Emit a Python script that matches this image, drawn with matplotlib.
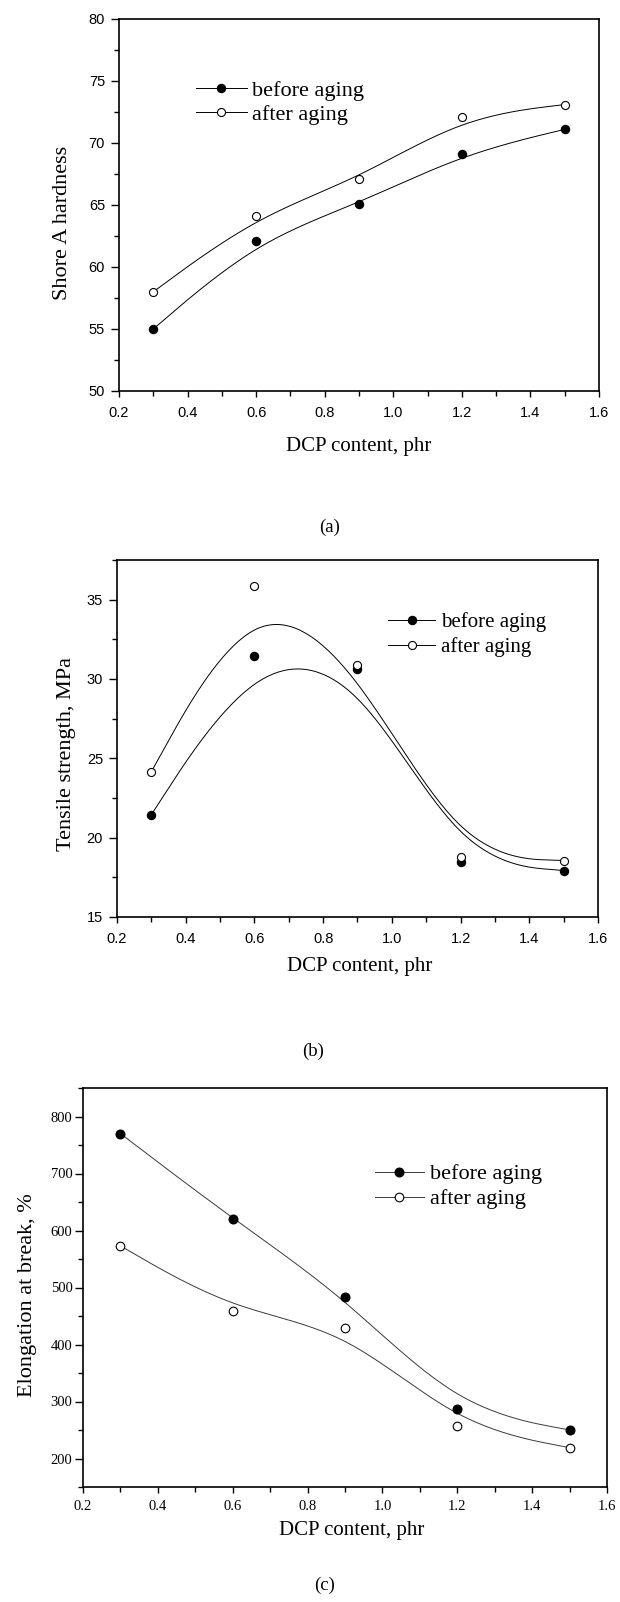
import numpy as np
import matplotlib
matplotlib.use("Agg")
import matplotlib.pyplot as plt
from matplotlib.lines import Line2D
from matplotlib.ticker import MultipleLocator, FormatStrFormatter

# DCP content (phr)
dcp = [0.3, 0.6, 0.9, 1.2, 1.5]

# (a) Shore A hardness
hard_before = [55.0, 62.1, 65.1, 69.1, 71.1]
hard_after = [58.0, 64.1, 67.1, 72.1, 73.1]

# (b) tensile strength, MPa
ts_before = [21.45, 31.47, 30.65, 18.46, 17.93]
ts_after = [24.16, 35.87, 30.87, 18.78, 18.56]

# (c) elongation at break, %
eb_before = [770, 620, 484, 287, 250]
eb_after = [573, 459, 429, 257, 219]

series_labels = ["before aging", "after aging"]
caption_labels = ["(a)", "(b)", "(c)"]
xlabel = "DCP content, phr"
ylabels = ["Shore A hardness", "Tensile strength, MPa", "Elongation at break, %"]

SERIF = "Liberation Serif"
SANS = "Liberation Sans"


def bspline(xs, ys, n=40):
    # uniform cubic B-spline, end points tripled (Origin style "B-Spline" connect)
    px = np.r_[[xs[0]] * 2, xs, [xs[-1]] * 2].astype(float)
    py = np.r_[[ys[0]] * 2, ys, [ys[-1]] * 2].astype(float)
    u = np.linspace(0, 1, n)
    b0 = (1 - u) ** 3 / 6
    b1 = (3 * u**3 - 6 * u**2 + 4) / 6
    b2 = (-3 * u**3 + 3 * u**2 + 3 * u + 1) / 6
    b3 = u**3 / 6
    outx, outy = [], []
    for i in range(len(px) - 3):
        outx.append(b0 * px[i] + b1 * px[i + 1] + b2 * px[i + 2] + b3 * px[i + 3])
        outy.append(b0 * py[i] + b1 * py[i + 1] + b2 * py[i + 2] + b3 * py[i + 3])
    return np.concatenate(outx), np.concatenate(outy)


W, H = 620, 1602
fig = plt.figure(figsize=(W / 100, H / 100), dpi=100)


def add_axes(left, right, top, bottom):
    return fig.add_axes([left / W, 1 - bottom / H, (right - left) / W, (bottom - top) / H])


panels = [
    dict(box=(119, 599, 19, 391), before=hard_before, after=hard_after, ylim=(50, 80),
         ymaj=5, ymin=2.5, tickfont=SANS, ticksize=10.5, lc="black", ms=5.8,
         leg=(0.16, 0.775, 16, 2.3, 0.25, 0.15),
         ylab=(-0.117, 0.452), xlab=(0.5, -0.148), cap=(330, 527), ypad=4.5, xpad=6.5, tl=5.5),
    dict(box=(117, 598, 560, 917), before=ts_before, after=ts_after, ylim=(15, 37.5),
         ymaj=5, ymin=2.5, tickfont=SANS, ticksize=10.5, lc="black", ms=5.8,
         leg=(0.564, 0.791, 15, 2.25, 0.3, 0.24),
         ylab=(-0.106, 0.457), xlab=(0.505, -0.14), cap=(313, 1051), ypad=4.5, xpad=6.5, tl=5.5),
    dict(box=(83, 607, 1088, 1487), before=eb_before, after=eb_after, ylim=(150, 850),
         ymaj=100, ymin=50, tickfont=SERIF, ticksize=10.5, lc="#3a3a3a", ms=6.2,
         leg=(0.557, 0.753, 16, 2.2, 0.28, 0.2),
         ylab=(-0.105, 0.481), xlab=(0.513, -0.11), cap=(325, 1585), ypad=1.5, xpad=5, tl=6),
]

for k, p in enumerate(panels):
    ax = add_axes(*p["box"])
    cx, cy = bspline(dcp, p["before"])
    ax.plot(cx, cy, color=p["lc"], lw=0.7, zorder=2)
    cx, cy = bspline(dcp, p["after"])
    ax.plot(cx, cy, color=p["lc"], lw=0.7, zorder=2)
    ax.plot(dcp, p["before"], "o", ms=p["ms"], mfc="black", mec="black", zorder=3)
    ax.plot(dcp, p["after"], "o", ms=p["ms"], mfc="white", mec="black", mew=0.8, zorder=3)

    ax.set_xlim(0.2, 1.6)
    ax.set_ylim(*p["ylim"])
    ax.xaxis.set_major_locator(MultipleLocator(0.2))
    ax.xaxis.set_minor_locator(MultipleLocator(0.1))
    ax.xaxis.set_major_formatter(FormatStrFormatter("%.1f"))
    ax.yaxis.set_major_locator(MultipleLocator(p["ymaj"]))
    ax.yaxis.set_minor_locator(MultipleLocator(p["ymin"]))
    ax.tick_params(which="both", direction="out", top=False, right=False, width=1.0)
    ax.tick_params(axis="y", which="major", length=p["tl"], pad=p["ypad"])
    ax.tick_params(axis="y", which="minor", length=3.5)
    ax.tick_params(axis="x", which="major", length=4.5, pad=p["xpad"])
    ax.tick_params(axis="x", which="minor", length=3.5)
    for lab in ax.get_xticklabels() + ax.get_yticklabels():
        lab.set_fontfamily(p["tickfont"])
        lab.set_fontsize(p["ticksize"])
    for s in ax.spines.values():
        s.set_linewidth(1.2)

    ax.set_xlabel(xlabel, fontfamily=SERIF, fontsize=15, va="center")
    ax.xaxis.set_label_coords(*p["xlab"])
    ax.set_ylabel(ylabels[k], fontfamily=SERIF, fontsize=16, va="center")
    ax.yaxis.set_label_coords(*p["ylab"])

    lx, ly, fs, hl, htp, ls = p["leg"]
    handles = [
        Line2D([], [], color=p["lc"], lw=0.7, marker="o", ms=p["ms"], mfc="black", mec="black"),
        Line2D([], [], color=p["lc"], lw=0.7, marker="o", ms=p["ms"], mfc="white", mec="black", mew=0.8),
    ]
    ax.legend(handles, series_labels, loc="center left", bbox_to_anchor=(lx, ly), frameon=False,
              borderpad=0, borderaxespad=0, handlelength=hl, handletextpad=htp, labelspacing=ls,
              numpoints=1, prop=dict(family=SERIF, size=fs))

    fig.text(p["cap"][0] / W, 1 - p["cap"][1] / H, caption_labels[k], ha="center", va="center",
             fontfamily=SERIF, fontsize=13.5)

fig.savefig("out.png", dpi=100)
